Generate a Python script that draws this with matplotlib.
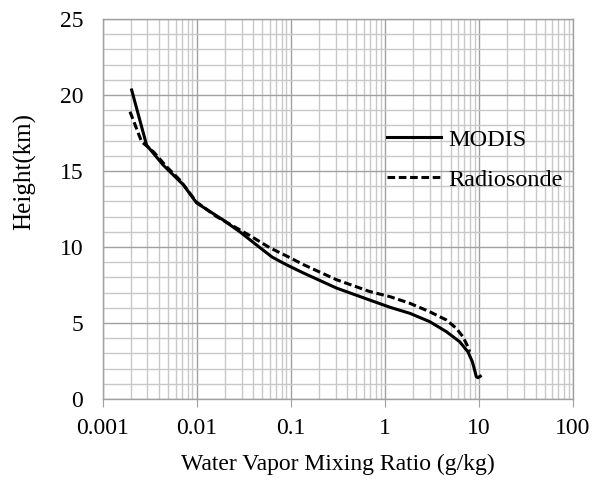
import matplotlib
matplotlib.use("Agg")
import matplotlib.pyplot as plt
from matplotlib.ticker import LogLocator, FixedLocator, MultipleLocator

plt.rcParams['font.family'] = ['Liberation Serif', 'DejaVu Serif']

# MODIS profile (mixing ratio g/kg, height km)
modis_x = [0.00204, 0.00294, 0.0044, 0.0072, 0.01, 0.0191, 0.0288, 0.0434, 0.063, 0.08, 0.098, 0.1355,
           0.306, 0.692, 1.14, 1.84, 3.0, 4.51, 6.24, 7.64, 8.51, 9.0, 9.38, 9.75, 10.35]
modis_h = [20.33, 16.7, 15.4, 14.1, 12.9, 11.78, 11.0, 10.13, 9.35, 9.0, 8.72, 8.3,
           7.3, 6.51, 6.03, 5.64, 5.09, 4.43, 3.77, 3.11, 2.46, 1.91, 1.47, 1.40, 1.5]

# Radiosonde profile
radio_x = [0.00196, 0.0026, 0.00347, 0.0048, 0.00665, 0.01, 0.0163, 0.0226, 0.0368, 0.06, 0.098,
           0.1355, 0.306, 0.692, 1.14, 1.84, 3.0, 4.51, 5.75, 6.76, 7.64, 7.96]
radio_h = [18.9, 16.93, 16.27, 15.28, 14.4, 12.95, 12.0, 11.5, 10.75, 9.95, 9.3,
           8.85, 7.85, 7.07, 6.73, 6.30, 5.74, 5.2, 4.65, 4.1, 3.44, 3.11]

x_ticks = [0.001, 0.01, 0.1, 1, 10, 100]
x_tick_labels = ["0.001", "0.01", "0.1", "1", "10", "100"]
y_ticks = [0, 5, 10, 15, 20, 25]

fig = plt.figure(figsize=(6.01, 4.86), dpi=100)
ax = fig.add_axes([0.1706, 0.179, 0.7828, 0.7819])

ax.set_xscale('log')
ax.set_xlim(0.001, 100)
ax.set_ylim(0, 25)

ax.plot(modis_x, modis_h, color='black', lw=2.2, label='MODIS', zorder=3)
ax.plot(radio_x, radio_h, color='black', lw=2.2, ls=(0, (2.5, 1.2)), label='Radiosonde', zorder=3)

ax.xaxis.set_major_locator(FixedLocator(x_ticks))
ax.set_xticklabels(x_tick_labels)
ax.xaxis.set_minor_locator(LogLocator(base=10, subs=range(2, 10), numticks=20))
ax.xaxis.set_minor_formatter(plt.NullFormatter())
ax.set_yticks(y_ticks)
ax.yaxis.set_minor_locator(MultipleLocator(1))

ax.grid(which='major', color='#a0a0a0', lw=1.0)
ax.grid(which='minor', color='#c8c8c8', lw=1.0)
ax.set_axisbelow(True)

for s in ax.spines.values():
    s.set_color('#a0a0a0')
    s.set_linewidth(1.0)

ax.tick_params(axis='x', which='major', direction='out', length=6, color='#a0a0a0', labelsize=17, pad=8)
ax.tick_params(axis='y', which='major', direction='out', length=0, labelsize=17, pad=14)
ax.tick_params(which='minor', length=0)

ax.set_xlabel('Water Vapor Mixing Ratio (g/kg)', fontsize=17)
ax.xaxis.set_label_coords(0.5, -0.145)
ax.set_ylabel('Height(km)', fontsize=18)
ax.yaxis.set_label_coords(-0.141, 0.6)

leg = ax.legend(loc='upper left', bbox_to_anchor=(0.585, 0.737), frameon=False, fontsize=17.5,
                handlelength=2.2, handletextpad=0.3, labelspacing=0.75, borderaxespad=0)

fig.savefig('out.png', dpi=100)
